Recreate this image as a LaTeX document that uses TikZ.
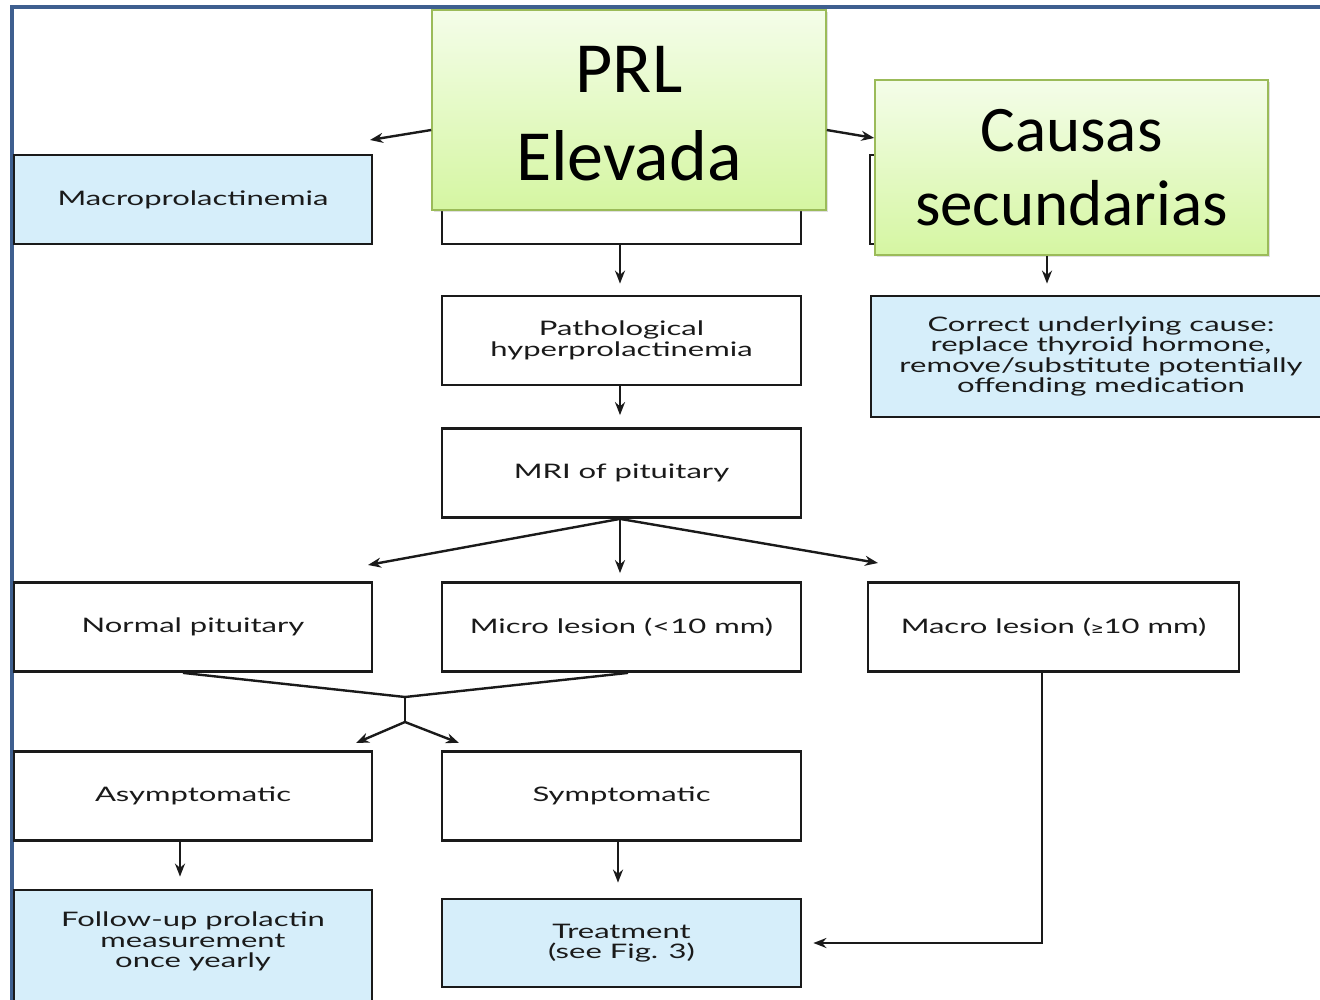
\documentclass[tikz,border=0pt]{standalone}
\usepackage{fontspec}
\usetikzlibrary{arrows.meta,shadows}
\newfontfamily\flowfont[FakeStretch=1.55]{Lato}
\newfontfamily\calloutfont{Carlito}
\definecolor{frameblue}{HTML}{3E5F8F}
\definecolor{boxblue}{HTML}{D6EEFA}
\definecolor{greenedge}{HTML}{9BBB59}
\definecolor{greentop}{HTML}{F4FDE9}
\definecolor{greenbot}{HTML}{D5F6A2}
\definecolor{ink}{HTML}{1A1A1A}
\tikzset{
  flow/.style={draw=ink, line width=2.8pt, fill=white, text=ink, align=center,
    font=\flowfont\fontsize{20}{20.5}\selectfont, inner sep=0pt},
  flowblue/.style={flow, fill=boxblue},
  callout/.style={draw=greenedge, line width=1.5pt, top color=greentop, bottom color=greenbot,
    inner sep=0pt, drop shadow={opacity=0.25, shadow xshift=2pt, shadow yshift=-2pt}},
  callouttext/.style={align=center, text=black, inner sep=0pt, font=\calloutfont},
  arr/.style={-{Stealth[length=13pt,width=10pt]}, line width=2.4pt, draw=ink},
  link/.style={line width=2.4pt, draw=ink}
}
\begin{document}
\begin{tikzpicture}[x=1pt,y=-1pt]
\useasboundingbox (0,0) rectangle (1320,1000);
\fill[white] (0,0) rectangle (1320,1000);
\begin{scope}
\clip (0,0) rectangle (1320,1000);
% outer frame
\draw[frameblue, line width=4pt] (12,1020) -- (12,7) -- (1340,7);

% first row
\node[flowblue, minimum width=358, minimum height=89] (macro) at (193,199.5) {Macroprolactinemia};
\node[flow, minimum width=359, minimum height=89] (phys) at (621.5,199.5) {};
\node[flow, minimum width=368, minimum height=89] (second) at (1054,199.5) {};

% central column
\node[flow, minimum width=359, minimum height=89] (patho) at (621.5,340.5) {Pathological\\hyperprolactinemia};
\node[flow, minimum width=359, minimum height=89] (mri) at (621.5,473) {MRI of pituitary};
\node[flowblue, minimum width=460, minimum height=121] (correct) at (1101,356.5)
  {Correct underlying cause:\\replace thyroid hormone,\\remove/substitute potentially\\offending medication};

% imaging results
\node[flow, minimum width=358, minimum height=89] (normal) at (193,627) {Normal pituitary};
\node[flow, minimum width=359, minimum height=89] (micro) at (621.5,627) {Micro lesion (<10 mm)};
\node[flow, minimum width=371, minimum height=89] (macrol) at (1053.5,627) {Macro lesion ({\fontspec{DejaVu Sans}\fontsize{15}{16}\selectfont ≥}10 mm)};

% symptoms
\node[flow, minimum width=358, minimum height=89] (asym) at (193,796) {Asymptomatic};
\node[flow, minimum width=359, minimum height=89] (sym) at (621.5,796) {Symptomatic};

% outcomes
\node[flowblue, minimum width=358, minimum height=120, text depth=20pt] (follow) at (193,950)
  {Follow-up prolactin\\measurement\\once yearly};
\node[flowblue, minimum width=359, minimum height=88] (treat) at (621.5,943) {Treatment\\(see Fig. 3)};

% callouts laid over the first row
\node[callout, minimum width=394, minimum height=200] (prl) at (629,110) {};
\node[callouttext, font=\calloutfont\fontsize{72}{88}\selectfont] (prlText) at ([yshift=-4pt]prl.center) {PRL\\Elevada};
\node[callout, minimum width=393, minimum height=175] (causas) at (1071.5,167.5) {};
\node[callouttext, font=\calloutfont\fontsize{65}{74}\selectfont] (causasText) at (causas.center) {Causas\\secundarias};

% connectors
\coordinate (macroEnd) at (370,140);
\draw[arr] ([yshift=-20pt]prl.west) -- (macroEnd);
\draw[arr] ([yshift=-20pt]prl.east) -- ([yshift=29.5pt]causas.west);
\draw[arr] ([xshift=-1.5pt]phys.south) -- ([xshift=-1.5pt,yshift=11pt]patho.north);
\draw[arr] ([xshift=-1.5pt]patho.south) -- ([xshift=-1.5pt,yshift=12pt]mri.north);
\coordinate (cdrop) at ([xshift=-24.5pt]causas.south);
\draw[arr] (cdrop) -- ([yshift=11pt]cdrop |- correct.north);

\coordinate (normEnd) at (368,565);
\coordinate (macEnd) at (878,563);
\draw[arr] ([xshift=-1.5pt]mri.south) -- (normEnd);
\draw[arr] ([xshift=-1.5pt]mri.south) -- ([xshift=-1.5pt,yshift=8pt]micro.north);
\draw[arr] ([xshift=-1.5pt]mri.south) -- (macEnd);

\coordinate (join) at (405,697);
\coordinate (fork) at (405,722);
\coordinate (asymEnd) at (356,743);
\coordinate (symEnd) at (459,743);
\draw[link] ([xshift=-10pt]normal.south) -- (join) -- ([xshift=6.5pt]micro.south);
\draw[link] (join) -- (fork);
\draw[arr] (fork) -- (asymEnd);
\draw[arr] (fork) -- (symEnd);

\draw[arr] ([xshift=-13pt]asym.south) -- ([xshift=-13pt,yshift=12pt]follow.north);
\draw[arr] ([xshift=-3.5pt]sym.south) -- ([xshift=-3.5pt,yshift=15pt]treat.north);
\draw[arr] ([xshift=-11.5pt]macrol.south) |- ([xshift=11pt]treat.east);
\end{scope}
\end{tikzpicture}
\end{document}
